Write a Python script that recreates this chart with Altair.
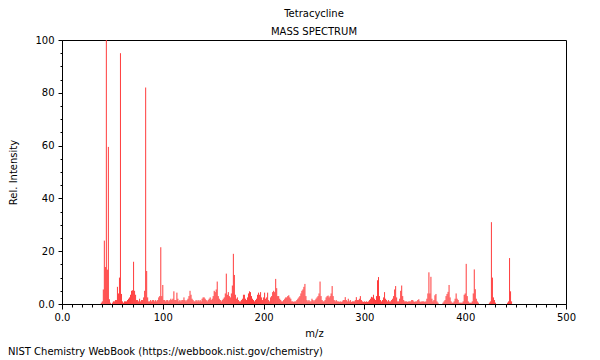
import altair as alt
import pandas as pd

title_text = "Tetracycline"
subtitle_text = "MASS SPECTRUM"
footer_text = "NIST Chemistry WebBook (https://webbook.nist.gov/chemistry)"
x_title = "m/z"
y_title = "Rel. Intensity"

mz = [
    39, 40, 41, 42, 43, 44, 45, 46, 47, 48, 50, 51, 52, 53, 54, 55, 56, 57, 58, 59,
    60, 61, 62, 63, 64, 65, 66, 67, 68, 69, 70, 71, 72, 73, 74, 75, 76, 77, 78, 79,
    80, 81, 82, 83, 84, 85, 86, 87, 88, 89, 90, 91, 92, 93, 94, 95, 96, 97, 98, 99,
    100, 101, 102, 103, 104, 105, 106, 107, 108, 109, 110, 111, 112, 113, 114, 115, 116, 117, 118, 119,
    120, 121, 122, 123, 124, 125, 126, 127, 128, 129, 130, 131, 132, 133, 134, 135, 136, 137, 138, 139,
    140, 141, 142, 143, 144, 145, 146, 147, 148, 149, 150, 151, 152, 153, 154, 155, 156, 157, 158, 159,
    160, 161, 162, 163, 164, 165, 166, 167, 168, 169, 170, 171, 172, 173, 174, 175, 176, 177, 178, 179,
    180, 181, 182, 183, 184, 185, 186, 187, 188, 189, 190, 191, 192, 193, 194, 195, 196, 197, 198, 199,
    200, 201, 202, 203, 204, 205, 206, 207, 208, 209, 210, 211, 212, 213, 214, 215, 216, 217, 218, 219,
    220, 221, 222, 223, 224, 225, 226, 227, 228, 229, 230, 231, 232, 233, 234, 235, 236, 237, 238, 239,
    240, 241, 242, 243, 244, 245, 246, 247, 248, 249, 250, 251, 252, 253, 254, 255, 256, 257, 258, 259,
    260, 261, 262, 263, 264, 265, 266, 267, 268, 269, 270, 271, 272, 273, 274, 275, 276, 277, 278, 279,
    280, 281, 282, 283, 284, 285, 286, 287, 288, 289, 290, 291, 292, 293, 294, 295, 296, 297, 298, 299,
    300, 301, 302, 303, 304, 305, 306, 307, 308, 309, 310, 311, 312, 313, 314, 315, 316, 317, 318, 319,
    320, 321, 322, 323, 324, 325, 326, 327, 328, 329, 330, 331, 332, 333, 334, 335, 336, 337, 338, 339,
    340, 341, 342, 343, 344, 345, 346, 347, 348, 349, 350, 351, 352, 353, 354, 355, 356, 357, 358, 359,
    360, 361, 362, 363, 364, 365, 366, 367, 368, 369, 370, 371, 372, 373, 378, 379,
    380, 381, 382, 383, 384, 385, 386, 387, 388, 389, 390, 391, 392, 393, 394, 395, 396, 397, 398, 399,
    400, 401, 402, 403, 404, 405, 406, 407, 408, 409, 410, 411, 412, 413,
    424, 425, 426, 427, 428, 429, 430, 442, 443, 444, 445, 446,
]

intensity = [
    0.5, 1, 5.5, 24, 14, 100, 13, 59.5, 1.8, 0.5, 0.5, 1, 1, 1.5, 1.5, 6.5, 4, 10, 95, 3.8,
    1, 0.5, 1, 1, 1, 1.5, 2, 2.5, 3.5, 5, 5.2, 16, 5, 3.5, 1.5, 1.5, 1, 2, 1, 1.5,
    1.5, 2.5, 5, 82, 12.5, 2.5, 1, 1, 1.5, 1, 1.5, 1.5, 1, 1.5, 1, 1.5, 2.5, 3, 21.5, 3,
    7.2, 1.5, 1.5, 1, 1.5, 1.5, 1, 1.5, 2, 1.5, 2, 4.8, 1.5, 1.5, 4.3, 2, 1, 1.5, 1, 1.5,
    1.5, 2.5, 1.5, 1, 1.5, 2, 3, 5, 3.5, 2, 1.5, 1, 1, 1.5, 1, 1.5, 1, 1.5, 1, 2,
    2.5, 2.5, 2, 1.5, 1, 1.5, 2, 2.5, 1.5, 2, 3, 5, 4.5, 5.5, 8.5, 3, 2, 1.5, 1, 1.5,
    2, 2.5, 4, 11.5, 3.5, 4.5, 3, 2.5, 4, 7, 19, 11, 3.5, 2, 2.5, 1.5, 1, 1, 1.5, 2,
    3.5, 3.5, 2, 1.5, 2.5, 4, 4.8, 4.5, 3, 2, 1.5, 1, 1.5, 2, 3.5, 4.3, 3.5, 4.5, 2.5, 1.5,
    2.5, 4.3, 2, 2.5, 4.3, 1.5, 1, 2.5, 3, 4.5, 5, 4.5, 9.5, 6, 3, 3, 2, 1.5, 1, 1,
    1.5, 2, 2.5, 2.5, 3, 3.3, 2.5, 2, 1, 1, 0.8, 1, 1, 1.5, 2, 2.5, 3, 4, 5, 5.5,
    6.5, 7.6, 3, 1.5, 1, 1.5, 1, 1, 2, 1.5, 1, 1.5, 2, 2.5, 3, 4, 8.5, 3, 1.5, 1,
    1, 1.5, 2.5, 3, 3.2, 2.5, 3, 4, 6.8, 3, 1.5, 1, 1.5, 1, 1, 0.8, 1, 0.8, 1, 1.5,
    1.5, 2.6, 1.5, 1, 2, 1, 1.5, 0.8, 1, 1, 1, 1.5, 2.6, 1.5, 1.5, 2, 3, 1.5, 1, 0.8,
    1, 0.8, 1, 0.8, 1, 1.5, 2, 2.7, 2.5, 3.5, 2, 1.5, 3, 9, 10.2, 3, 1.5, 1, 1.5, 2.5,
    4.5, 2, 1.5, 1, 1.5, 1, 1, 1.5, 2, 3, 5.5, 6.8, 2.5, 1, 1, 2, 5, 7, 3, 1.5,
    1, 1, 1, 0.8, 1, 1, 1, 1.5, 1.5, 1, 0.8, 1, 1, 1.5, 1.8, 1, 0.8, 1, 1, 1,
    0.8, 1, 2, 4, 12, 4, 10.3, 2, 1, 1.5, 3.3, 3.8, 1, 0.5, 0.5, 1,
    1.5, 3, 3.8, 4.6, 7.2, 2.5, 1, 0.5, 0.5, 1, 2, 4, 2, 1.5, 0.5, 0.5, 0.5, 0.5, 1, 3.5,
    4, 15.2, 3, 1, 0.5, 0.5, 0.5, 1, 4, 13.1, 5.6, 2, 1, 0.5,
    0.5, 1, 31, 10, 2.5, 1.5, 0.5, 0.5, 1, 17.4, 4.8, 1,
]

x_major = [0, 100, 200, 300, 400, 500]
x_minor = [10, 20, 30, 40, 50, 60, 70, 80, 90, 110, 120, 130, 140, 150, 160, 170, 180, 190,
           210, 220, 230, 240, 250, 260, 270, 280, 290, 310, 320, 330, 340, 350, 360, 370, 380, 390,
           410, 420, 430, 440, 450, 460, 470, 480, 490]
y_major = [0, 20, 40, 60, 80, 100]
y_minor = [5, 10, 15, 25, 30, 35, 45, 50, 55, 65, 70, 75, 85, 90, 95]

df = pd.DataFrame({"mz": mz, "intensity": intensity})
footer_df = pd.DataFrame({"t": [footer_text]})

FONT = "DejaVu Sans"
xscale = alt.Scale(domain=[0, 500], nice=False, zero=False)
yscale = alt.Scale(domain=[0, 100], nice=False)

common = dict(domainColor="black", tickColor="black", labelColor="black",
              labelFont=FONT, labelFontSize=10, titleFont=FONT, titleFontSize=10,
              titleFontWeight="normal", titleColor="black", grid=False, labelFlush=False)

spectrum = alt.Chart(df).mark_rule(color="#ff3c3c", strokeWidth=1).encode(
    x=alt.X("mz:Q", scale=xscale,
            axis=alt.Axis(values=x_major, orient="bottom", tickSize=5, labelPadding=3,
                          labelExpr="datum.value == 0 ? '0.0' : datum.label",
                          title=x_title, titleY=29, titleBaseline="middle", **common)),
    y=alt.Y("intensity:Q", scale=yscale,
            axis=alt.Axis(values=y_major, orient="left", tickSize=4, labelPadding=4,
                          labelExpr="datum.value == 0 ? '0.0' : datum.label",
                          title=y_title, titleX=-49, titleY=132, titleAngle=270,
                          titleAlign="center", titleBaseline="middle", **common)),
    y2=alt.datum(0),
)

minor = alt.Chart(df).mark_point(opacity=0).encode(
    x=alt.X("mz:Q", scale=xscale,
            axis=alt.Axis(values=x_minor, orient="bottom", labels=False, domain=False,
                          tickSize=3, tickColor="black", grid=False, title=None)),
    y=alt.Y("intensity:Q", scale=yscale,
            axis=alt.Axis(values=y_minor, orient="left", labels=False, domain=False,
                          tickSize=2, tickColor="black", grid=False, title=None)),
)

footer = alt.Chart(footer_df).mark_text(
    align="left", baseline="middle", font=FONT, fontSize=10, color="black"
).encode(x=alt.value(-54), y=alt.value(312), text="t:N")

chart = alt.layer(minor, spectrum, footer).resolve_axis(
    x="independent", y="independent"
).properties(
    width=504, height=264,
    title=alt.TitleParams(text=title_text, subtitle=subtitle_text, font=FONT, subtitleFont=FONT,
                          fontSize=10, subtitleFontSize=10, fontWeight="normal",
                          color="black", subtitleColor="black", anchor="middle",
                          offset=-2, subtitlePadding=8),
    padding={"left": 54, "top": 32, "right": 26, "bottom": 56},
    autosize=alt.AutoSizeParams(type="none"),
).configure_view(stroke="black", strokeWidth=1)

chart.save("out.html", embed_options={"renderer": "svg", "actions": False})
